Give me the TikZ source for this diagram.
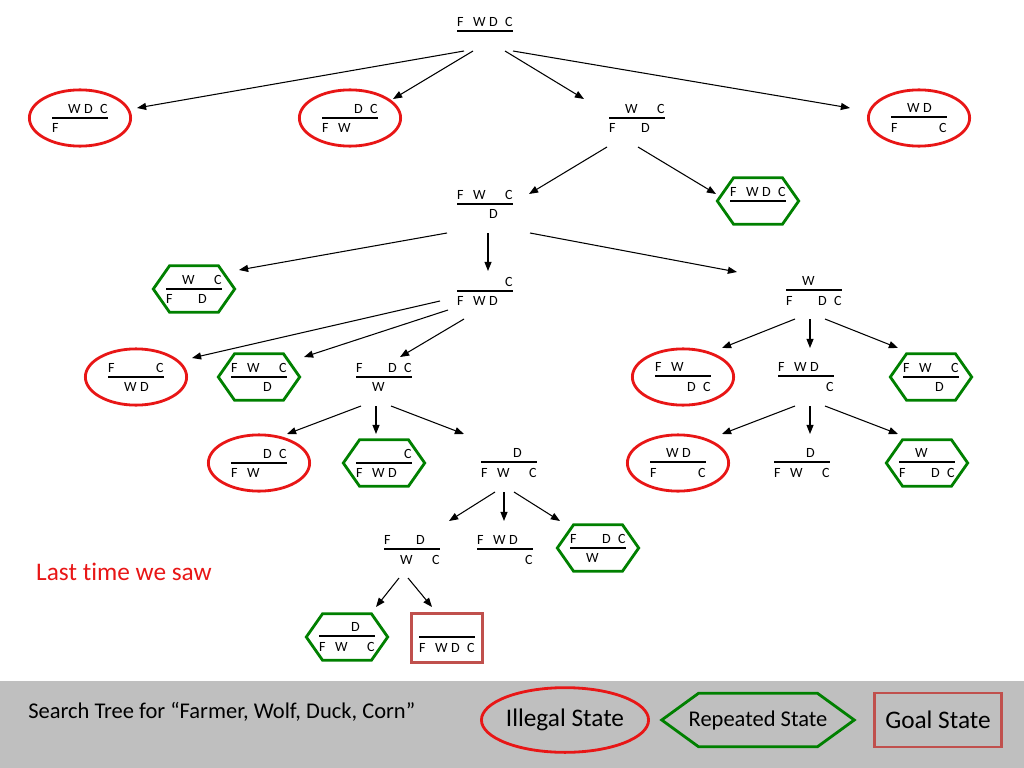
\documentclass[tikz,border=0pt]{standalone}
\usepackage{fontspec}
\setmainfont{Carlito}[Ligatures=NoCommon]
\usetikzlibrary{shapes.geometric,shapes.symbols,calc,arrows.meta}
\definecolor{illred}{RGB}{232,22,22}
\definecolor{repgreen}{RGB}{0,128,0}
\definecolor{goalred}{RGB}{192,80,77}
\definecolor{band}{RGB}{191,191,191}
% one bank of the river: fixed slots for F, W, D, C
\newcommand{\slots}[4]{\hbox to 39.8pt{\vphantom{W}\makebox[11.4pt][l]{#1}\makebox[11.4pt][l]{#2}\makebox[11.4pt][l]{#3}\makebox[5.6pt][l]{#4}}}
\newcommand{\st}[8]{\vbox{\slots{#1}{#2}{#3}{#4}\kern2.5pt\hrule height1.4pt\kern3.2pt\slots{#5}{#6}{#7}{#8}}}
\begin{document}
\begin{tikzpicture}[x=0.025cm, y=-0.025cm, >={Triangle[length=6.5pt,width=5pt]},
    state/.style={font=\fontsize{10}{12}\selectfont, inner sep=0pt},
    illegal/.style={state, ellipse, draw=illred, line width=2pt, minimum width=72pt, minimum height=40pt},
    repeated/.style={state, signal, signal to=east and west, signal pointer angle=110, draw=repgreen, line width=2pt, inner xsep=-2.5pt, minimum height=33pt},
    goal/.style={state, draw=goalred, line width=2pt, minimum width=50.5pt, minimum height=35pt},
    move/.style={->, line width=0.75pt}]
    \useasboundingbox (0,0) rectangle (1024,768);
    \fill[band] (0,681) rectangle (1024,768);
    % the tree
    \node[state] (s0) at (485,31) {\st{F}{W}{D}{C}{}{}{}{}};
    \node[illegal] (s1) at (80,118) {\st{}{W}{D}{C}{F}{}{}{}};
    \node[illegal] (s2) at (350,118) {\st{}{}{D}{C}{F}{W}{}{}};
    \node[state] (s3) at (637,118) {\st{}{W}{}{C}{F}{}{D}{}};
    \node[illegal] (s4) at (919,118) {\st{}{W}{D}{}{F}{}{}{C}};
    \node[state] (s5) at (485,204) {\st{F}{W}{}{C}{}{}{D}{}};
    \node[repeated] (s6) at (758,201) {\st{F}{W}{D}{C}{}{}{}{}};
    \node[repeated] (s7) at (194,289) {\st{}{W}{}{C}{F}{}{D}{}};
    \node[state] (s8) at (485,291) {\st{}{}{}{C}{F}{W}{D}{}};
    \node[state] (s9) at (814,291) {\st{}{W}{}{}{F}{}{D}{C}};
    \node[illegal] (s10) at (136,377) {\st{F}{}{}{C}{}{W}{D}{}};
    \node[repeated] (s11) at (259,377) {\st{F}{W}{}{C}{}{}{D}{}};
    \node[state] (s12) at (384,377) {\st{F}{}{D}{C}{}{W}{}{}};
    \node[illegal] (s13) at (683,377) {\st{F}{W}{}{}{}{}{D}{C}};
    \node[state] (s14) at (806,377) {\st{F}{W}{D}{}{}{}{}{C}};
    \node[repeated] (s15) at (931,377) {\st{F}{W}{}{C}{}{}{D}{}};
    \node[illegal] (s16) at (259,463) {\st{}{}{D}{C}{F}{W}{}{}};
    \node[repeated] (s17) at (384,463) {\st{}{}{}{C}{F}{W}{D}{}};
    \node[state] (s18) at (509,463) {\st{}{}{D}{}{F}{W}{}{C}};
    \node[illegal] (s19) at (678,463) {\st{}{W}{D}{}{F}{}{}{C}};
    \node[state] (s20) at (802,463) {\st{}{}{D}{}{F}{W}{}{C}};
    \node[repeated] (s21) at (927,463) {\st{}{W}{}{}{F}{}{D}{C}};
    \node[state] (s22) at (412,550) {\st{F}{}{D}{}{}{W}{}{C}};
    \node[state] (s23) at (505,550) {\st{F}{W}{D}{}{}{}{}{C}};
    \node[repeated] (s24) at (598,548) {\st{F}{}{D}{C}{}{W}{}{}};
    \node[repeated] (s25) at (347,637) {\st{}{}{D}{}{F}{W}{}{C}};
    \node[goal] (s26) at (447,638) {\st{}{}{}{}{F}{W}{D}{C}};
    % moves
    \draw[move] ($(s0)+(-21,20)$) -- ($(s1)+(57,-10)$);
    \draw[move] ($(s0)+(-12,20)$) -- ($(s2)+(43,-19)$);
    \draw[move] ($(s0)+(20,20)$) -- ($(s3)+(-53,-19)$);
    \draw[move] ($(s0)+(28,20)$) -- ($(s4)+(-69,-10)$);
    \draw[move] ($(s3)+(-30,29)$) -- ($(s5)+(44,-10)$);
    \draw[move] ($(s3)+(1,29)$) -- ($(s6)+(-42,-7)$);
    \draw[move] ($(s5)+(-38,29)$) -- ($(s7)+(45,-19)$);
    \draw[move] ($(s5)+(3,29)$) -- ($(s8)+(3,-20)$);
    \draw[move] ($(s5)+(45,29)$) -- ($(s9)+(-77,-19)$);
    \draw[move] ($(s8)+(-45,10)$) -- ($(s10)+(56,-19)$);
    \draw[move] ($(s8)+(-37,19)$) -- ($(s11)+(45,-20)$);
    \draw[move] ($(s8)+(-21,28)$) -- ($(s12)+(16,-20)$);
    \draw[move] ($(s9)+(-19,28)$) -- ($(s13)+(39,-29)$);
    \draw[move] ($(s9)+(-4,28)$) -- ($(s14)+(4,-29)$);
    \draw[move] ($(s9)+(11,28)$) -- ($(s15)+(-33,-29)$);
    \draw[move] ($(s12)+(-23,29)$) -- ($(s16)+(28,-29)$);
    \draw[move] ($(s12)+(-8,29)$) -- ($(s17)+(-8,-29)$);
    \draw[move] ($(s12)+(7,29)$) -- ($(s18)+(-45,-29)$);
    \draw[move] ($(s14)+(-11,29)$) -- ($(s19)+(44,-29)$);
    \draw[move] ($(s14)+(4,29)$) -- ($(s20)+(8,-29)$);
    \draw[move] ($(s14)+(19,29)$) -- ($(s21)+(-29,-29)$);
    \draw[move] ($(s18)+(-14,29)$) -- ($(s22)+(37,-29)$);
    \draw[move] ($(s18)+(-5,29)$) -- ($(s23)+(-1,-29)$);
    \draw[move] ($(s18)+(5,29)$) -- ($(s24)+(-38,-27)$);
    \draw[move] ($(s22)+(-13,28)$) -- ($(s25)+(29,-30)$);
    \draw[move] ($(s22)+(-4,28)$) -- ($(s26)+(-15,-31)$);
    \node[text=illred, font=\fontsize{18}{21}\selectfont] (lastsaw) at (124,572) {Last time we saw};
    % key
    \node[anchor=west, inner sep=0pt, font=\fontsize{16}{19}\selectfont] (caption) at (28,712) {Search Tree for “Farmer, Wolf, Duck, Corn”};
    \node[illegal, minimum width=115pt, minimum height=46pt, font=\fontsize{18}{22}\selectfont] (keyill) at (565,720) {Illegal State};
    \node[repeated, signal pointer angle=72, minimum height=38pt, inner xsep=-7pt, font=\fontsize{16}{19}\selectfont] (keyrep) at (758,720) {Repeated State};
    \node[goal, minimum width=90pt, minimum height=38.5pt, font=\fontsize{18}{22}\selectfont] (keygoal) at (938,720) {Goal State};
\end{tikzpicture}
\end{document}
